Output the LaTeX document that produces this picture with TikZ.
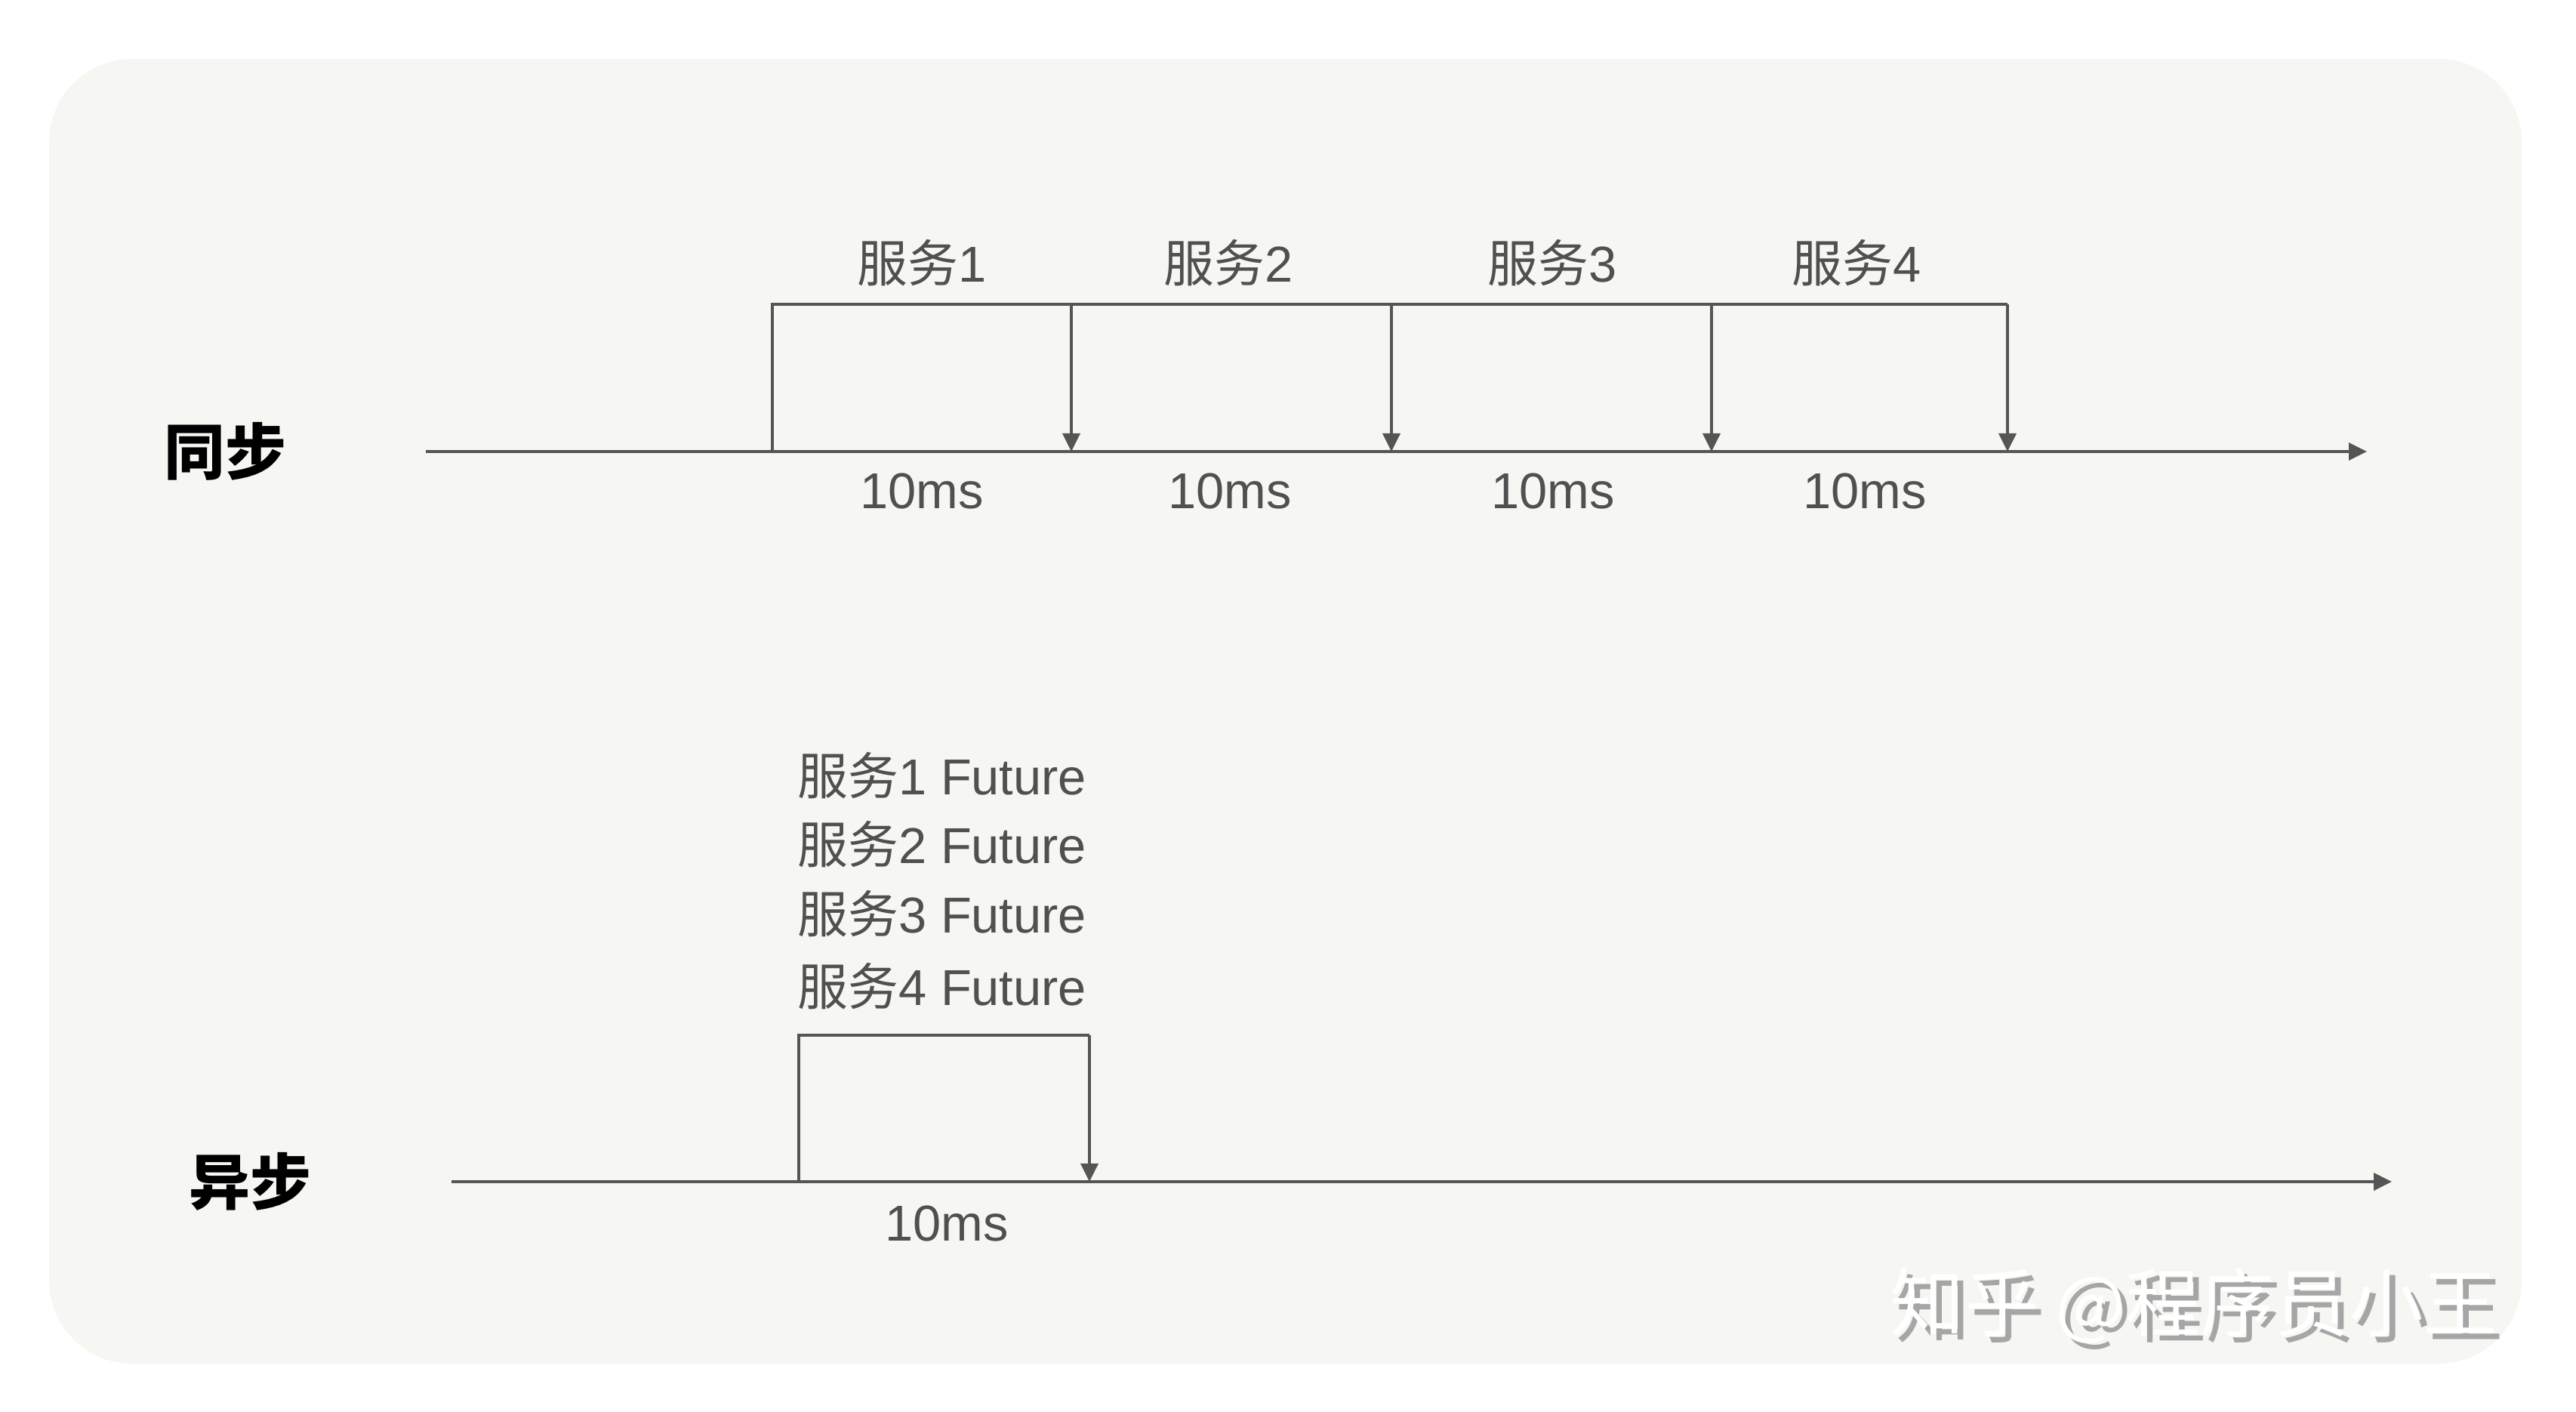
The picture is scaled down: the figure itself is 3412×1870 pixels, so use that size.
\documentclass[tikz,border=0pt]{standalone}
\usepackage{fontspec}
\setmainfont{Liberation Sans}
\newfontfamily\cjk{Noto Sans CJK SC}
\usetikzlibrary{arrows.meta}
\definecolor{bgc}{HTML}{F6F6F2}
\definecolor{lnc}{HTML}{555555}
\definecolor{txc}{HTML}{505050}
\begin{document}
\begin{tikzpicture}[x=0.01cm,y=-0.01cm,
  rail/.style={draw=lnc,line width=0.035cm},
  tiparrow/.style={rail,-{Triangle[length=0.24cm,width=0.23cm]}},
  lbl/.style={text=txc,inner sep=0pt,font=\fontsize{19}{23}\selectfont},
  side/.style={text=black,inner sep=0pt,font=\cjk\bfseries\fontsize{23}{27}\selectfont},
  wm/.style={inner sep=0pt,font=\cjk\fontsize{28}{32}\selectfont}]
\useasboundingbox (0,0) rectangle (3412,1870);
\fill[bgc,rounded corners=1.1cm] (65,78) rectangle (3340,1806);

% ---- synchronous ----
\node[side] (sync) at (298,598) {同步};
\coordinate (a0) at (564,598);
\coordinate (a1) at (3135,598);
\draw[tiparrow] (a0) -- (a1);
\coordinate (b0) at (1023,598);
\coordinate (t0) at (1023,403);
\coordinate (t1) at (1419,403);
\coordinate (t2) at (1843,403);
\coordinate (t3) at (2267,403);
\coordinate (t4) at (2659,403);
\coordinate (p1) at (1419,598);
\coordinate (p2) at (1843,598);
\coordinate (p3) at (2267,598);
\coordinate (p4) at (2659,598);
\draw[rail] (b0) -- (t0) -- (t4);
\draw[tiparrow] (t1) -- (p1);
\draw[tiparrow] (t2) -- (p2);
\draw[tiparrow] (t3) -- (p3);
\draw[tiparrow] (t4) -- (p4);
\node[lbl] (s1) at (1221,348) {{\cjk 服务}1};
\node[lbl] (s2) at (1627,348) {{\cjk 服务}2};
\node[lbl] (s3) at (2056,348) {{\cjk 服务}3};
\node[lbl] (s4) at (2459,348) {{\cjk 服务}4};
\node[lbl] (m1) at (1221,650) {10ms};
\node[lbl] (m2) at (1629,650) {10ms};
\node[lbl] (m3) at (2057,650) {10ms};
\node[lbl] (m4) at (2470,650) {10ms};

% ---- asynchronous ----
\node[side] (async) at (331,1565) {异步};
\coordinate (c0) at (598,1565);
\coordinate (c1) at (3168,1565);
\draw[tiparrow] (c0) -- (c1);
\coordinate (d0) at (1058,1565);
\coordinate (u0) at (1058,1371);
\coordinate (u1) at (1443,1371);
\coordinate (q1) at (1443,1565);
\draw[rail] (d0) -- (u0) -- (u1);
\draw[tiparrow] (u1) -- (q1);
\node[lbl,anchor=west] (f1) at (1056,1027) {{\cjk 服务}1 Future};
\node[lbl,anchor=west] (f2) at (1056,1118) {{\cjk 服务}2 Future};
\node[lbl,anchor=west] (f3) at (1056,1210) {{\cjk 服务}3 Future};
\node[lbl,anchor=west] (f4) at (1056,1306) {{\cjk 服务}4 Future};
\node[lbl] (m5) at (1254,1620) {10ms};

% ---- watermark ----
\node[wm,text=black!35] (wms) at (2914,1737) {知乎 @程序员小王};
\node[wm,text=white] (wmt) at (2906,1729) {知乎 @程序员小王};
\end{tikzpicture}
\end{document}
